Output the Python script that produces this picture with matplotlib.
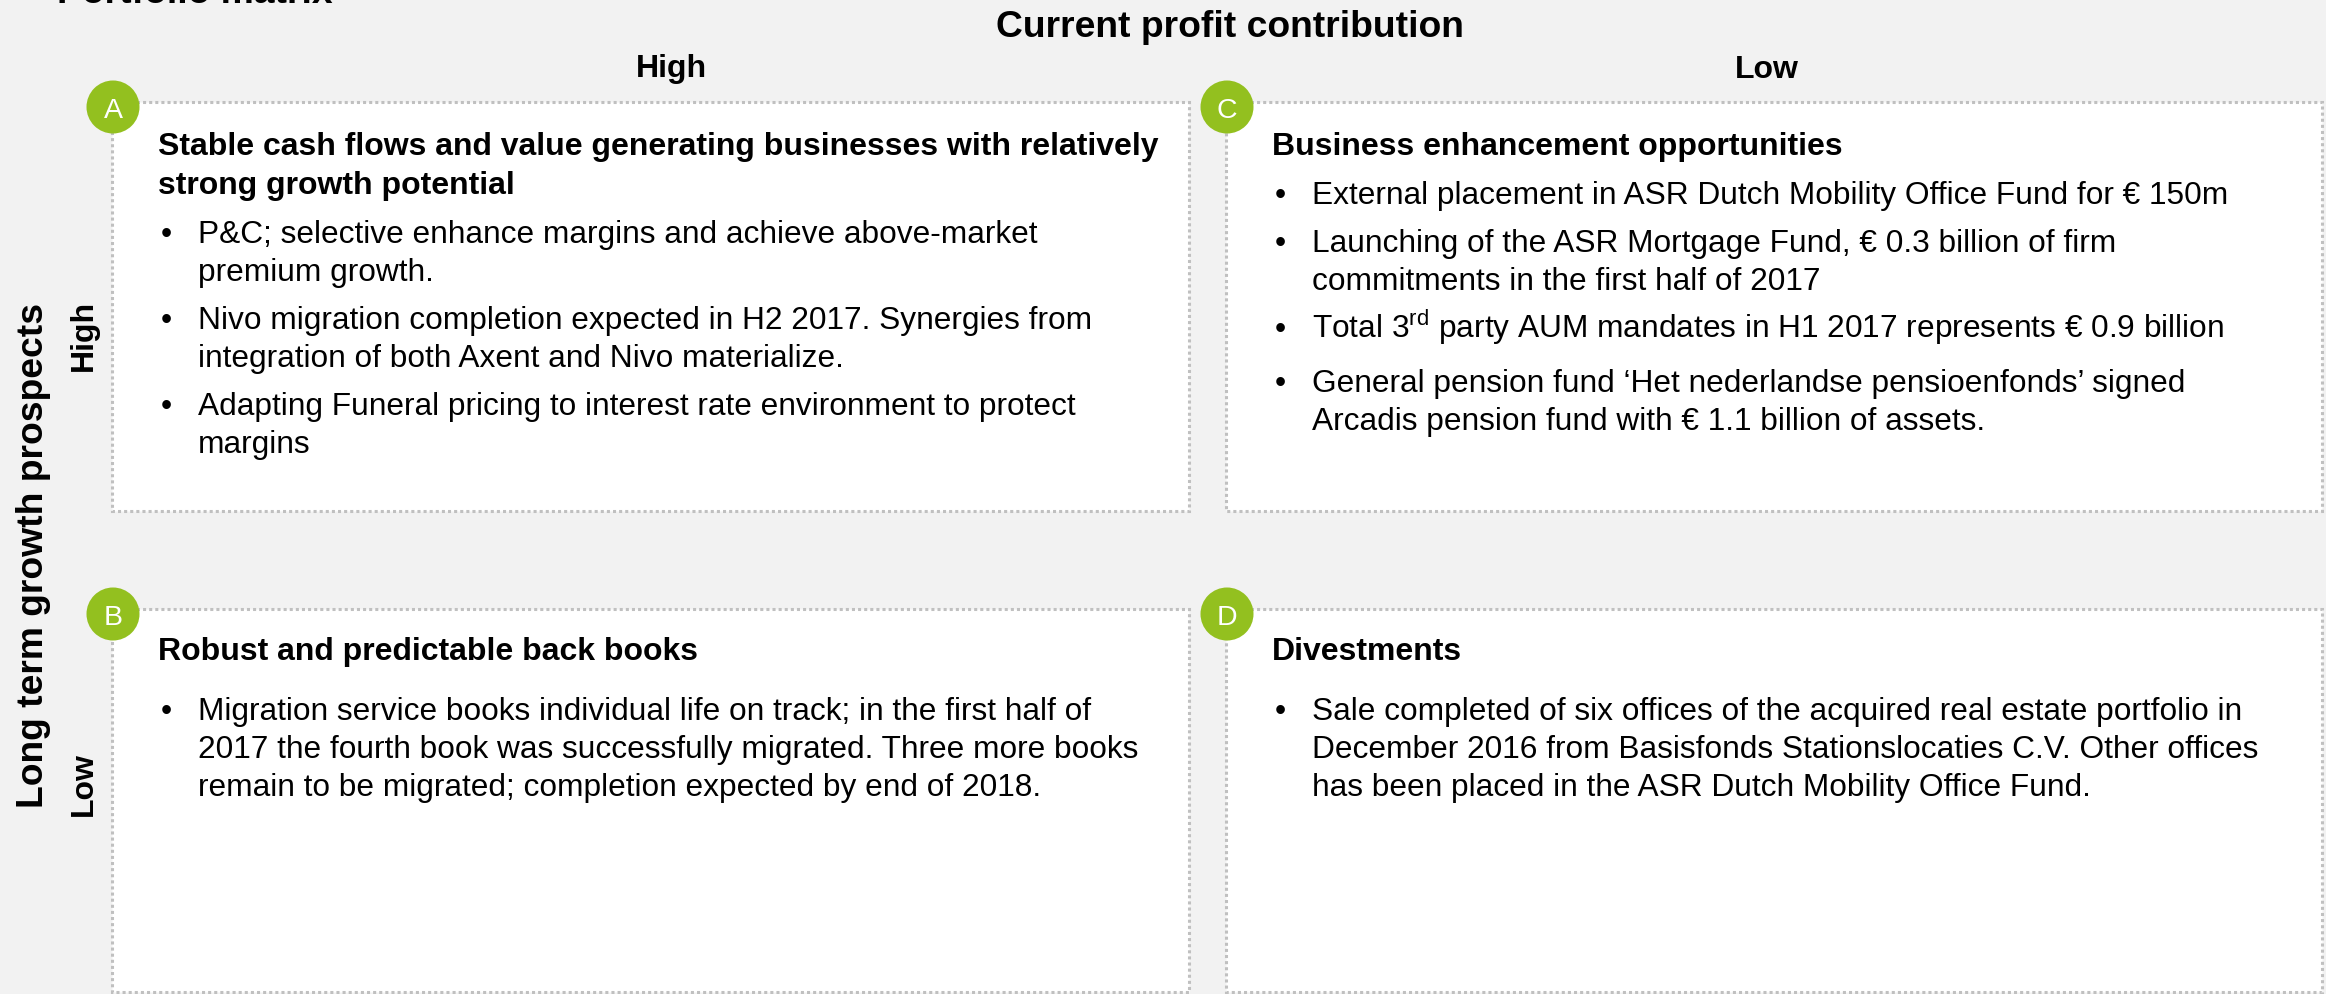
import matplotlib
matplotlib.use("Agg")
import matplotlib.pyplot as plt
from matplotlib.patches import Rectangle, Circle

plt.rcParams['font.family'] = ['Liberation Sans', 'DejaVu Sans']
plt.rcParams['mathtext.fontset'] = 'custom'
plt.rcParams['mathtext.rm'] = 'Liberation Sans'

# ---------------- content ----------------
page_title = "Portfolio matrix"
top_title = "Current profit contribution"
side_title = "Long term growth prospects"
col_labels = ["High", "Low"]
row_labels = ["High", "Low"]

letters = ["A", "C", "B", "D"]
box_titles = [
    ["Stable cash flows and value generating businesses with relatively",
     "strong growth potential"],
    ["Business enhancement opportunities"],
    ["Robust and predictable back books"],
    ["Divestments"],
]
box_bullets = [
    [["P&C; selective enhance margins and achieve above-market",
      "premium growth."],
     ["Nivo migration completion expected in H2 2017. Synergies from",
      "integration of both Axent and Nivo materialize."],
     ["Adapting Funeral pricing to interest rate environment to protect",
      "margins"]],
    [["External placement in ASR Dutch Mobility Office Fund for \u20ac 150m"],
     ["Launching of the ASR Mortgage Fund, \u20ac 0.3 billion of firm",
      "commitments in the first half of 2017"],
     ["Total 3$^{\\mathregular{rd}}$ party AUM mandates in H1 2017 represents \u20ac 0.9 billion"],
     ["General pension fund \u2018Het nederlandse pensioenfonds\u2019 signed",
      "Arcadis pension fund with \u20ac 1.1 billion of assets."]],
    [["Migration service books individual life on track; in the first half of",
      "2017 the fourth book was successfully migrated. Three more books",
      "remain to be migrated; completion expected by end of 2018."]],
    [["Sale completed of six offices of the acquired real estate portfolio in",
      "December 2016 from Basisfonds Stationslocaties C.V. Other offices",
      "has been placed in the ASR Dutch Mobility Office Fund."]],
]

# ---------------- layout / style ----------------
W, H = 2326, 995
BG = '#F2F2F2'
GREEN = '#93C01F'
BORDER = '#C0C0C0'
col_left = [112, 1226]
col_right = [1189, 2322]
row_top = [103, 610]
row_bottom = [512, 993]
title_offset = [52, 50]
title_gap = [49, 60]
FS_BODY = 22.8
FS_BOLD = 23
FS_BIG = 26.8

fig = plt.figure(figsize=(W / 100, H / 100), dpi=100)
fig.patch.set_facecolor(BG)
ax = fig.add_axes([0, 0, 1, 1])
ax.set_xlim(0, W)
ax.set_ylim(H, 0)
ax.axis('off')
ax.set_facecolor(BG)

# page title (cut off at top, as in the reference)
ax.text(57, 3, page_title, fontsize=FS_BIG, fontweight='bold',
        ha='left', va='baseline', color='black')

# headers
ax.text(1230, 37, top_title, fontsize=FS_BIG, fontweight='bold',
        ha='center', va='baseline')
ax.text(671, 77, col_labels[0], fontsize=FS_BOLD, fontweight='bold',
        ha='center', va='baseline')
ax.text(1767, 78, col_labels[1], fontsize=FS_BOLD, fontweight='bold',
        ha='center', va='baseline')

ax.text(43, 556, side_title, fontsize=FS_BIG, fontweight='bold',
        rotation=90, rotation_mode='anchor', ha='center', va='baseline')
ax.text(92, 335, row_labels[0], fontsize=FS_BOLD, fontweight='bold',
        rotation=90, rotation_mode='anchor', ha='center', va='baseline')
ax.text(92, 784, row_labels[1], fontsize=FS_BOLD, fontweight='bold',
        rotation=90, rotation_mode='anchor', ha='center', va='baseline')

# quadrants
for i in range(4):
    r, c = divmod(i, 2)
    x0, x1 = col_left[c], col_right[c]
    y0, y1 = row_top[r], row_bottom[r]
    ax.add_patch(Rectangle((x0, y0), x1 - x0, y1 - y0, facecolor='white',
                           edgecolor=BORDER, linewidth=2.2,
                           linestyle=(0, (1, 1)), zorder=1))
    ax.add_patch(Circle((x0 + 1, y0 + 5), 26.5, facecolor=GREEN,
                        edgecolor='none', zorder=3))
    ax.text(x0 + 1, y0 + 5, letters[i], color='white', fontsize=20.5,
            ha='center', va='center_baseline', zorder=4)

    y = y0 + title_offset[r]
    tx = x0 + 46
    for k, line in enumerate(box_titles[i]):
        if k > 0:
            y += 39
        ax.text(tx, y, line, fontsize=FS_BOLD, fontweight='bold',
                ha='left', va='baseline', zorder=4)
    prev_sup = False
    for b, bullet in enumerate(box_bullets[i]):
        y += title_gap[r] if b == 0 else 48
        if prev_sup:
            y += 6
        ax.text(x0 + 49, y, "\u2022", fontsize=FS_BODY, ha='left',
                va='baseline', zorder=4)
        for k, line in enumerate(bullet):
            if k > 0:
                y += 38
            ax.text(x0 + 86, y, line, fontsize=FS_BODY, ha='left',
                    va='baseline', zorder=4)
        prev_sup = '$^' in bullet[-1]

fig.savefig('out.png', dpi=100, facecolor=fig.get_facecolor())
